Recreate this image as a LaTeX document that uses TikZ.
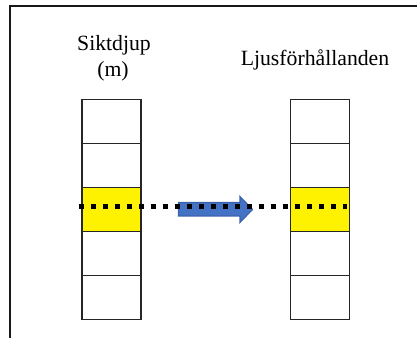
\documentclass[tikz,border=0pt]{standalone}
\usepackage{fontspec}
\setmainfont{Liberation Serif}
\begin{document}
\begin{tikzpicture}[x=0.75pt,y=-0.75pt,
  cell/.style={draw=black!85,line width=1.2pt,fill=white,minimum width=59*0.75pt,minimum height=44*0.75pt,inner sep=0pt,outer sep=0pt,anchor=north west},
  hot/.style={cell,fill=yellow},
  head/.style={font=\fontsize{16.3}{20}\selectfont,align=center,inner sep=0pt},
  frame/.style={line width=1.5pt,black!90},
  level/.style={line width=3.7pt,dash pattern=on 3.5pt off 5.5pt,black},
  flowarrow/.style={fill=arrowblue,draw=arrowedge,line width=0.8pt,line join=miter}
]
\definecolor{arrowblue}{HTML}{4472C4}
\definecolor{arrowedge}{HTML}{3A62AC}
\useasboundingbox (0,0) rectangle (417,338);
\fill[white] (0,0) rectangle (417,338);

% open frame: top and left edges only
\draw[frame] (10,338) -- (10,6.5) -- (417,6.5);

% column headings
\node[head,anchor=base] (hl) at (114,50.5) {Siktdjup};
\node[head,anchor=base] (hm) at (113,77) {(m)};
\node[head,anchor=base] (hr) at (315,65.5) {Ljusförhållanden};

% left column of five cells
\node[cell] (L1) at (82,99.5) {};
\node[cell] (L2) at (82,143.5) {};
\node[hot]  (L3) at (82,187.5) {};
\node[cell] (L4) at (82,231.5) {};
\node[cell] (L5) at (82,275.5) {};

% right column of five cells
\node[cell] (R1) at (290.5,99.5) {};
\node[cell] (R2) at (290.5,143.5) {};
\node[hot]  (R3) at (290.5,187.5) {};
\node[cell] (R4) at (290.5,231.5) {};
\node[cell] (R5) at (290.5,275.5) {};

% block arrow between the columns
\coordinate (tip) at (252.5,209.5);
\draw[flowarrow] (178.5,202.5) -- (240,202.5) -- (240,196.5) -- (tip) -- (240,222.5) -- (240,216) -- (178.5,216) -- cycle;

% dotted level line across both columns
\coordinate (dl) at ([xshift=-3*0.75pt,yshift=3*0.75pt]L3.west);
\coordinate (dr) at ([xshift=-3*0.75pt,yshift=3*0.75pt]R3.east);
\draw[level] (dl) -- (dr);
\end{tikzpicture}
\end{document}
